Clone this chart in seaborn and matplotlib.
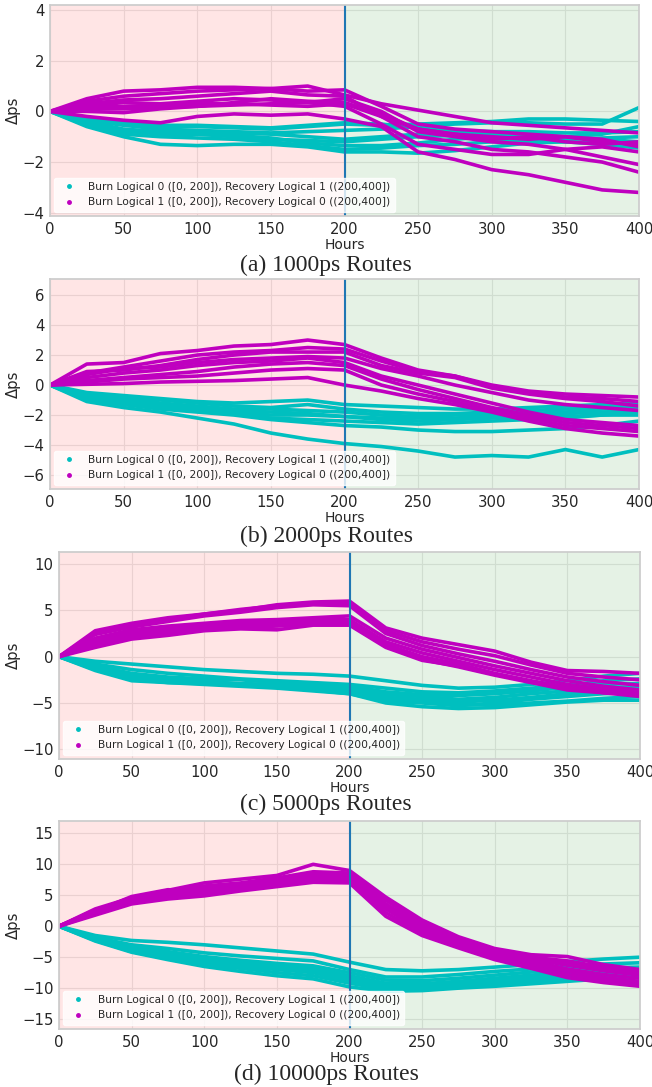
import numpy as np
import pandas as pd
import matplotlib
matplotlib.use("Agg")
import matplotlib.pyplot as plt
from matplotlib.lines import Line2D
import seaborn as sns

hours = [0, 25, 50, 75, 100, 125, 150, 175, 200, 225, 250, 275, 300, 325, 350, 375, 400]

captions = ["(a) 1000ps Routes", "(b) 2000ps Routes", "(c) 5000ps Routes", "(d) 10000ps Routes"]
legend_labels = ["Burn Logical 0 ([0, 200]), Recovery Logical 1 ((200,400])",
                 "Burn Logical 1 ([0, 200]), Recovery Logical 0 ((200,400])"]

# 1000ps
a_burn0 = [
    [0, -0.30, -0.50, -0.60, -0.60, -0.65, -0.70, -0.60, -0.50, -0.55, -0.50, -0.45, -0.40, -0.30, -0.30, -0.35, -0.40],
    [0, -0.35, -0.55, -0.70, -0.75, -0.80, -0.85, -0.80, -0.75, -0.70, -0.60, -0.50, -0.45, -0.45, -0.50, -0.50, 0.15],
    [0, -0.40, -0.70, -0.80, -0.80, -0.85, -0.90, -1.00, -1.10, -1.00, -0.90, -0.85, -0.80, -0.80, -0.85, -0.85, -0.80],
    [0, -0.45, -0.75, -0.90, -0.90, -1.00, -1.10, -1.15, -1.20, -1.10, -1.00, -0.95, -0.90, -1.00, -1.10, -1.05, -1.00],
    [0, -0.50, -0.80, -0.85, -0.90, -0.95, -1.05, -1.25, -1.35, -1.35, -1.25, -1.10, -1.00, -0.95, -1.00, -1.10, -1.20],
    [0, -0.55, -0.90, -1.00, -1.05, -1.10, -1.20, -1.35, -1.50, -1.45, -1.35, -1.30, -1.20, -1.15, -1.20, -1.25, -1.30],
    [0, -0.60, -1.00, -1.30, -1.35, -1.30, -1.30, -1.40, -1.60, -1.60, -1.65, -1.55, -1.40, -1.25, -1.20, -1.30, -1.45],
    [0, -0.30, -0.45, -0.55, -0.55, -0.60, -0.65, -0.55, -0.45, -0.50, -0.65, -0.75, -0.80, -0.90, -1.00, -0.90, -0.60],
]
a_burn1 = [
    [0, 0.50, 0.80, 0.85, 0.95, 0.95, 0.90, 1.00, 0.65, 0.30, 0.05, -0.20, -0.45, -0.55, -0.65, -0.75, -0.85],
    [0, 0.40, 0.60, 0.70, 0.80, 0.85, 0.90, 0.80, 0.85, 0.20, -0.50, -0.70, -0.80, -0.90, -1.00, -1.10, -1.40],
    [0, 0.30, 0.45, 0.50, 0.60, 0.70, 0.80, 0.65, 0.60, -0.20, -0.70, -0.90, -1.10, -1.00, -1.20, -1.30, -1.20],
    [0, 0.20, 0.35, 0.30, 0.40, 0.50, 0.45, 0.35, 0.50, 0.00, -0.80, -1.00, -1.20, -1.30, -1.50, -1.80, -2.10],
    [0, 0.15, 0.20, 0.25, 0.30, 0.30, 0.25, 0.20, 0.30, -0.20, -1.00, -1.20, -1.50, -1.60, -1.80, -2.00, -2.40],
    [0, 0.10, 0.10, 0.15, 0.20, 0.25, 0.30, 0.35, 0.20, -0.50, -1.30, -1.50, -1.70, -1.70, -1.50, -1.40, -1.60],
    [0, -0.20, -0.35, -0.45, -0.20, -0.10, -0.15, -0.10, -0.30, -0.60, -1.60, -1.90, -2.30, -2.50, -2.80, -3.10, -3.20],
    [0, 0.00, -0.05, 0.10, 0.20, 0.35, 0.50, 0.40, 0.35, -0.10, -0.70, -0.90, -1.00, -1.10, -1.00, -1.20, -1.30],
]

# 2000ps
b_burn0 = [
    [0, -0.5, -0.7, -0.9, -1.1, -1.2, -1.1, -1.0, -1.3, -1.4, -1.5, -1.6, -1.6, -1.5, -1.4, -1.3, -1.2],
    [0, -0.6, -0.8, -1.0, -1.2, -1.4, -1.5, -1.3, -1.6, -1.8, -1.9, -1.9, -1.8, -1.7, -1.6, -1.5, -1.3],
    [0, -0.6, -0.9, -1.2, -1.4, -1.6, -1.6, -1.7, -1.8, -2.0, -2.1, -2.0, -2.0, -1.9, -1.8, -1.6, -1.5],
    [0, -0.7, -1.0, -1.3, -1.5, -1.7, -1.8, -1.9, -2.1, -2.2, -2.2, -2.2, -2.1, -2.0, -1.9, -1.8, -1.7],
    [0, -0.8, -1.1, -1.4, -1.6, -1.8, -2.0, -2.0, -2.1, -2.3, -2.4, -2.3, -2.2, -2.1, -2.1, -2.0, -2.0],
    [0, -0.9, -1.2, -1.5, -1.7, -1.9, -2.2, -2.3, -2.4, -2.5, -2.6, -2.5, -2.4, -2.3, -2.2, -2.0, -1.8],
    [0, -1.0, -1.3, -1.6, -1.8, -2.0, -2.3, -2.5, -2.7, -2.8, -3.0, -3.1, -3.1, -3.0, -2.9, -2.7, -2.4],
    [0, -1.1, -1.5, -1.8, -2.2, -2.6, -3.2, -3.6, -3.9, -4.1, -4.4, -4.8, -4.7, -4.8, -4.3, -4.8, -4.3],
]
b_burn1 = [
    [0, 1.4, 1.5, 2.1, 2.3, 2.6, 2.7, 3.0, 2.7, 1.8, 1.0, 0.6, 0.0, -0.4, -0.6, -0.7, -0.8],
    [0, 0.8, 1.2, 1.6, 2.0, 2.2, 2.3, 2.5, 2.4, 1.6, 0.9, 0.6, -0.1, -0.5, -0.8, -0.9, -1.1],
    [0, 0.9, 1.0, 1.3, 1.7, 2.0, 2.2, 2.2, 2.2, 1.3, 0.8, 0.5, -0.2, -0.6, -0.9, -1.1, -1.4],
    [0, 0.7, 1.1, 1.2, 1.5, 1.7, 1.8, 1.9, 1.8, 1.1, 0.6, 0.0, -0.5, -1.0, -1.3, -1.5, -1.7],
    [0, 0.5, 0.8, 1.0, 1.3, 1.5, 1.6, 1.8, 1.5, 0.6, 0.0, -0.6, -1.2, -1.8, -2.3, -2.5, -2.7],
    [0, 0.3, 0.5, 0.7, 0.9, 1.2, 1.4, 1.5, 1.3, 0.4, -0.3, -0.9, -1.5, -2.0, -2.5, -2.7, -2.9],
    [0, 0.2, 0.4, 0.5, 0.6, 0.8, 1.0, 1.1, 1.0, 0.0, -0.6, -1.1, -1.7, -2.2, -2.7, -2.9, -3.1],
    [0, 0.05, 0.1, 0.2, 0.25, 0.3, 0.4, 0.5, 0.0, -0.4, -0.9, -1.3, -1.8, -2.4, -2.9, -3.2, -3.4],
]

# 5000ps
c_burn0 = [
    [0, -0.5, -0.8, -1.1, -1.4, -1.6, -1.8, -1.9, -2.1, -2.6, -3.1, -3.4, -3.3, -3.0, -2.6, -2.1, -1.8],
    [0, -0.8, -1.4, -1.8, -2.1, -2.4, -2.6, -2.8, -3.0, -3.4, -3.8, -3.9, -3.7, -3.4, -3.1, -2.6, -2.4],
    [0, -1.0, -1.8, -2.2, -2.4, -2.5, -2.8, -3.0, -3.2, -3.8, -4.1, -4.2, -4.0, -3.7, -3.3, -3.0, -2.9],
    [0, -1.2, -2.1, -2.5, -2.7, -2.9, -3.0, -3.2, -3.5, -4.1, -4.3, -4.6, -4.4, -4.0, -3.7, -3.4, -3.3],
    [0, -1.4, -2.4, -2.8, -2.9, -3.1, -3.2, -3.5, -3.8, -4.4, -4.6, -4.9, -4.7, -4.4, -4.0, -3.7, -3.6],
    [0, -1.5, -2.6, -2.8, -3.0, -3.2, -3.4, -3.7, -4.0, -4.8, -5.0, -5.3, -5.0, -4.6, -4.3, -4.0, -3.9],
    [0, -1.3, -2.2, -2.6, -2.8, -3.1, -3.3, -3.6, -4.0, -5.0, -5.4, -5.6, -5.5, -5.2, -4.9, -4.7, -4.7],
    [0, -1.1, -2.0, -2.4, -2.6, -3.0, -3.2, -3.4, -3.7, -4.6, -4.8, -5.2, -5.2, -5.0, -4.8, -4.5, -4.3],
]
c_burn1 = [
    [0, 2.8, 3.6, 4.2, 4.6, 5.0, 5.6, 5.9, 6.0, 3.1, 2.0, 1.3, 0.6, -0.6, -1.5, -1.6, -1.8],
    [0, 2.6, 3.4, 4.0, 4.6, 5.1, 5.5, 5.8, 5.8, 2.8, 1.6, 0.8, 0.1, -0.9, -1.8, -2.2, -2.5],
    [0, 2.4, 3.2, 3.8, 4.4, 4.8, 5.3, 5.6, 5.5, 2.5, 1.2, 0.3, -0.5, -1.4, -2.2, -2.7, -3.1],
    [0, 2.0, 2.9, 3.3, 3.6, 3.9, 4.0, 4.2, 4.4, 2.0, 0.8, -0.1, -1.0, -1.8, -2.6, -3.2, -3.6],
    [0, 1.8, 2.6, 3.0, 3.4, 3.6, 3.8, 4.0, 4.0, 1.6, 0.4, -0.5, -1.4, -2.2, -3.0, -3.5, -3.9],
    [0, 1.5, 2.3, 2.7, 3.2, 3.4, 3.5, 3.7, 3.7, 1.3, 0.0, -0.8, -1.8, -2.6, -3.3, -3.9, -4.3],
    [0, 1.2, 2.1, 2.6, 3.0, 3.2, 3.3, 3.5, 3.5, 1.1, -0.3, -1.1, -2.0, -2.8, -3.6, -3.9, -4.0],
    [0, 1.0, 1.9, 2.3, 2.8, 3.0, 2.9, 3.4, 3.4, 1.0, -0.4, -1.0, -1.9, -2.7, -3.4, -3.6, -3.7],
]

# 10000ps
d_burn0 = [
    [0, -1.5, -2.3, -2.6, -3.0, -3.5, -4.0, -4.5, -5.8, -7.0, -7.2, -7.0, -6.6, -6.2, -5.7, -5.3, -5.0],
    [0, -1.8, -3.0, -3.6, -4.3, -4.8, -5.2, -5.6, -7.0, -8.2, -8.2, -7.8, -7.3, -6.9, -6.4, -6.1, -5.9],
    [0, -1.9, -3.3, -4.1, -4.9, -5.5, -6.0, -6.4, -7.5, -8.7, -8.8, -8.4, -7.9, -7.4, -6.9, -6.7, -6.6],
    [0, -2.0, -3.5, -4.4, -5.2, -5.9, -6.3, -6.8, -8.0, -9.2, -9.3, -8.9, -8.4, -7.9, -7.4, -7.3, -7.2],
    [0, -2.1, -3.7, -4.6, -5.5, -6.1, -6.6, -7.2, -8.4, -9.6, -9.7, -9.3, -8.8, -8.3, -7.9, -7.7, -7.6],
    [0, -2.2, -3.9, -4.9, -5.8, -6.4, -7.0, -7.5, -8.8, -9.9, -10.0, -9.6, -9.2, -8.7, -8.3, -8.1, -8.0],
    [0, -2.3, -4.1, -5.2, -6.2, -6.8, -7.5, -8.0, -9.2, -10.2, -10.2, -9.9, -9.5, -9.0, -8.6, -8.4, -8.3],
    [0, -2.4, -4.2, -5.4, -6.5, -7.3, -8.0, -8.5, -9.8, -10.5, -10.4, -10.0, -9.7, -9.3, -8.9, -8.5, -8.1],
]
d_burn1 = [
    [0, 2.8, 4.6, 5.8, 7.0, 7.6, 8.2, 10.0, 9.0, 4.7, 1.0, -1.7, -3.6, -4.6, -4.9, -6.2, -7.0],
    [0, 2.6, 4.4, 5.5, 6.5, 7.0, 7.8, 8.8, 8.6, 4.2, 0.5, -2.0, -3.9, -5.0, -5.6, -6.6, -7.3],
    [0, 2.5, 4.2, 5.3, 6.0, 6.6, 7.4, 8.4, 8.2, 3.6, 0.0, -2.3, -4.2, -5.3, -6.3, -7.2, -7.9],
    [0, 2.4, 4.8, 5.9, 5.6, 6.8, 7.2, 8.2, 7.8, 3.2, -0.4, -2.6, -4.5, -5.6, -6.9, -7.8, -8.4],
    [0, 2.2, 4.0, 5.0, 5.5, 6.2, 7.0, 7.8, 7.5, 2.8, -0.8, -2.9, -4.8, -6.0, -7.3, -8.3, -8.9],
    [0, 2.0, 3.8, 4.7, 5.2, 6.0, 6.6, 7.4, 7.2, 2.2, -1.2, -3.2, -5.1, -6.4, -7.8, -8.7, -9.3],
    [0, 1.8, 3.6, 4.4, 4.9, 5.7, 6.4, 7.1, 7.0, 1.6, -1.5, -3.5, -5.4, -6.8, -8.3, -9.1, -9.7],
    [0, 2.6, 4.5, 5.7, 6.3, 6.8, 7.6, 8.5, 8.0, 3.5, 0.2, -2.1, -4.0, -5.4, -6.0, -7.0, -7.6],
]

panels = [(a_burn0, a_burn1), (b_burn0, b_burn1), (c_burn0, c_burn1), (d_burn0, d_burn1)]

sns.set_theme(style="whitegrid", rc={"grid.color": "0.91", "grid.linewidth": 0.8,
                                     "axes.edgecolor": "0.8"})
plt.rcParams["font.family"] = ["DejaVu Sans"]

W, H = 652, 1087
fig = plt.figure(figsize=(W / 100, H / 100), dpi=100)

# pixel boxes: left, right, top, bottom
boxes = [(50, 639, 5, 216), (50, 639, 279, 489), (59, 640, 552, 759), (59, 640, 821, 1029)]
ylims = [(-4.13, 4.2), (-6.93, 7.07), (-11.05, 11.3), (-16.6, 17.0)]
yticks = [[-4, -2, 0, 2, 4], [-6, -4, -2, 0, 2, 4, 6], [-10, -5, 0, 5, 10], [-15, -10, -5, 0, 5, 10, 15]]
cap_y = [265, 536, 804, 1074]
palette = {"burn0": "#00bfbf", "burn1": "#bf00bf"}

for i, (b0, b1) in enumerate(panels):
    l, r, t, b = boxes[i]
    ax = fig.add_axes([l / W, 1 - b / H, (r - l) / W, (b - t) / H])
    rows = []
    for grp, lines in (("burn0", b0), ("burn1", b1)):
        for k, vals in enumerate(lines):
            for h, v in zip(hours, vals):
                rows.append({"hours": h, "dps": v, "route": f"{grp}_{k}", "group": grp})
    df = pd.DataFrame(rows)

    ax.axvspan(0, 200, color="red", alpha=0.1, lw=0)
    ax.axvspan(200, 400, color="green", alpha=0.1, lw=0)
    sns.lineplot(data=df, x="hours", y="dps", hue="group", units="route", estimator=None,
                 palette=palette, linewidth=2.6, legend=False, ax=ax)
    ax.axvline(200, color="tab:blue", lw=1.5)

    ax.set_xlim(0, 400)
    ax.set_ylim(*ylims[i])
    ax.set_yticks(yticks[i])
    ax.set_xticks([0, 50, 100, 150, 200, 250, 300, 350, 400])
    ax.tick_params(labelsize=10.7, length=0, pad=4)
    ax.set_xlabel("Hours", fontsize=10)
    ax.set_ylabel("Δps", fontsize=10.7)
    ax.xaxis.set_label_coords(0.5, -22 / (b - t))
    ax.yaxis.set_label_coords((21 - l) / (r - l), 0.5)

    handles = [Line2D([], [], marker=".", linestyle="", color="#00bfbf", markersize=5),
               Line2D([], [], marker=".", linestyle="", color="#bf00bf", markersize=5)]
    ax.legend(handles, legend_labels, loc="lower left", fontsize=7.7, framealpha=0.8,
              edgecolor="white", borderaxespad=0.4)

    fig.text(0.5, 1 - cap_y[i] / H, captions[i], ha="center", va="center",
             fontsize=17, family="Liberation Serif")

fig.savefig("out.png", dpi=100)
